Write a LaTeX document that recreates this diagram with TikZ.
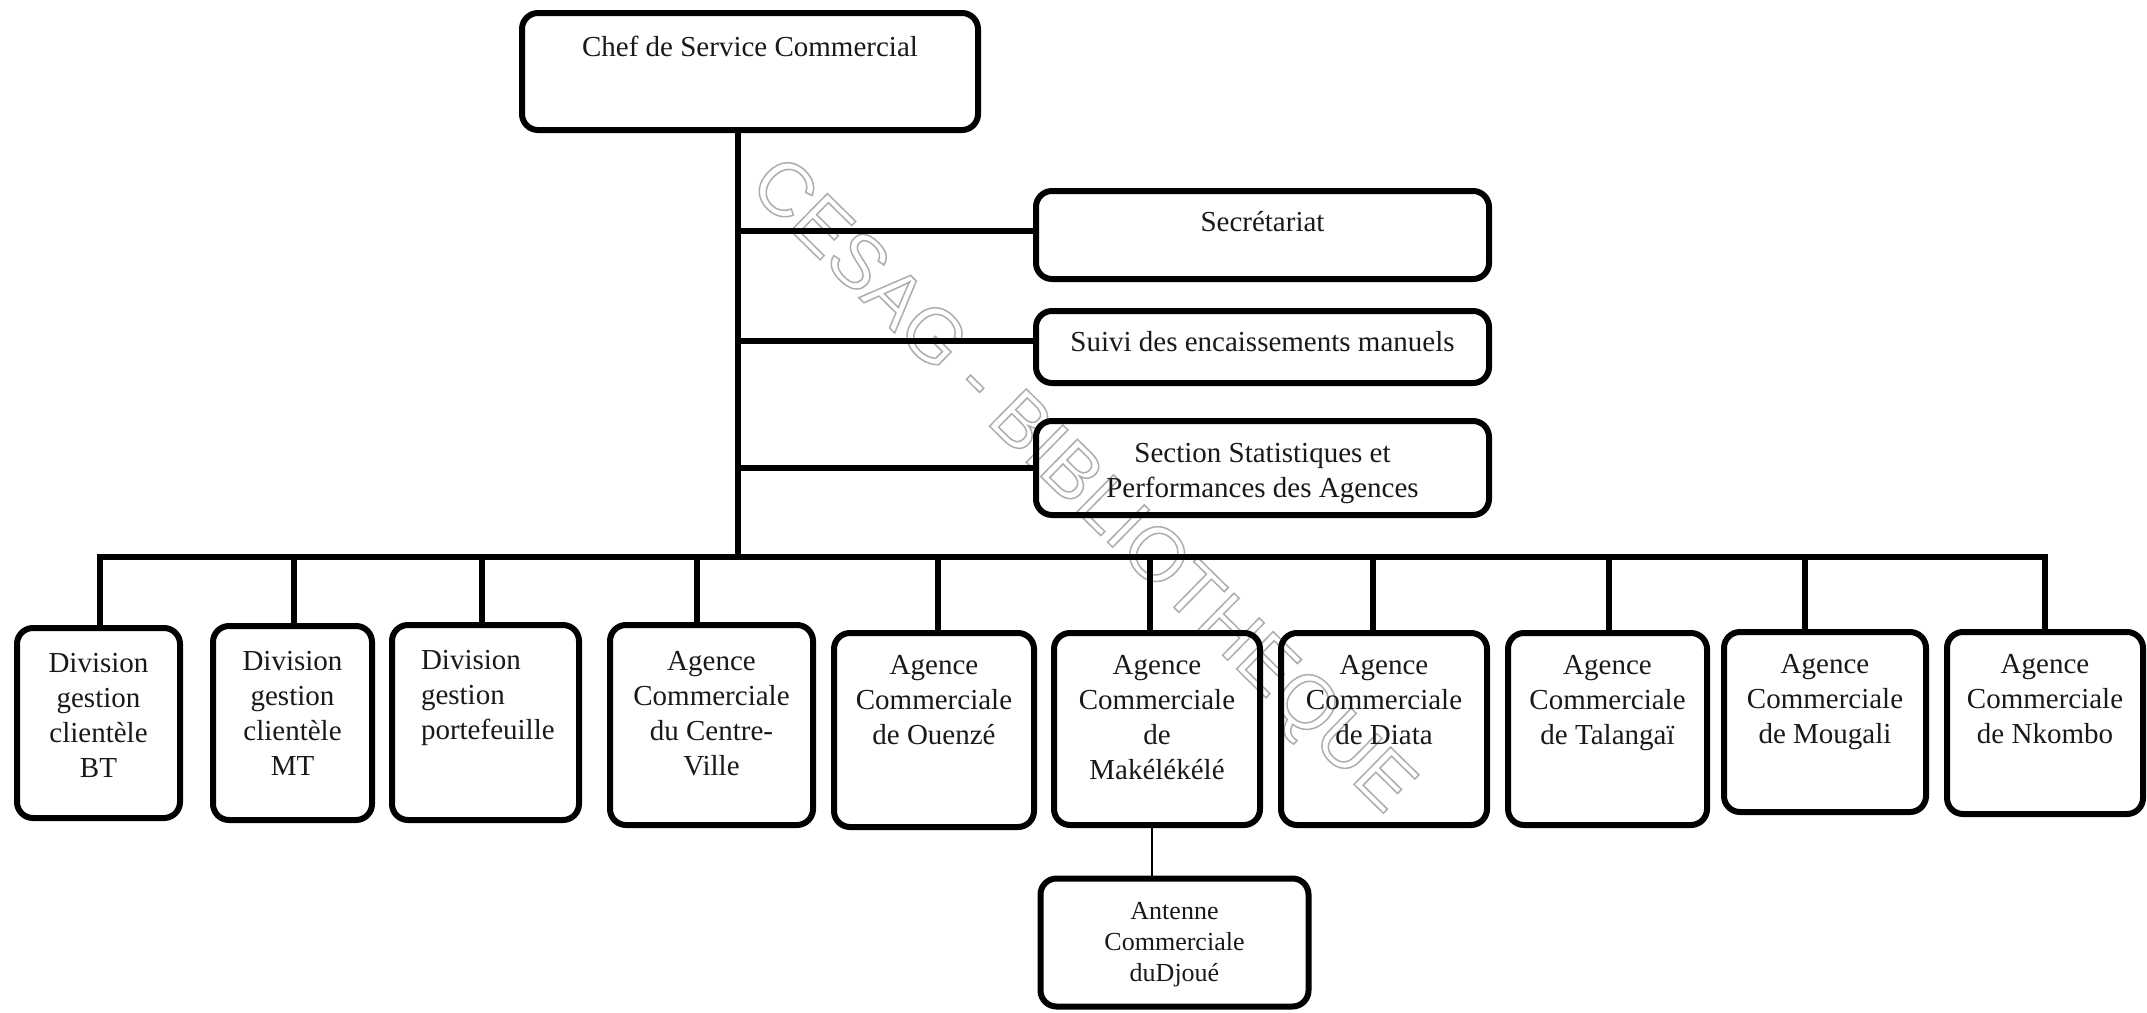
\documentclass[tikz,border=0pt]{standalone}
\usepackage{fontspec}
\setmainfont{Liberation Serif}
\newfontfamily\wmfont{Liberation Sans}
\newcommand{\bx}[4]{\parbox[c][#2pt][t]{#1pt}{\centering\vspace*{#3pt}\strut#4\par}}
\newcommand{\bxl}[5]{\parbox[c][#2pt][t]{#1pt}{\raggedright\leftskip=#4pt\vspace*{#3pt}\strut#5\par}}
\newcommand{\outlinetext}[1]{\special{pdf:literal direct 1 Tr 1.5 w}#1\special{pdf:literal direct 0 Tr}}
\tikzset{
  box/.style={draw=black, line width=6pt, rounded corners=16pt, inner sep=0pt,
    font=\fontsize{29}{35}\selectfont, text=black!90},
  smallbox/.style={box, font=\fontsize{26}{31}\selectfont},
  conn/.style={line width=5.5pt, draw=black},
  thinconn/.style={line width=1.8pt, draw=black},
  watermark/.style={font=\wmfont\fontsize{76}{76}\selectfont, text=black!32, inner sep=0pt}
}
\begin{document}
\begin{tikzpicture}[x=1pt,y=-1pt]
\useasboundingbox (0,0) rectangle (2147,1012);
\fill[white] (0,0) rectangle (2147,1012);

% watermark
\node[watermark, rotate=-44.5] (wm) at (1080,488) {\outlinetext{CESAG - BIBLIOTHEQUE}};

% top boxes
\node[box] (chef) at (750,71.5) {\bx{456}{117}{19}{Chef de Service Commercial}};
\node[box] (sec) at (1262.5,235) {\bx{453}{88}{16}{Secrétariat}};
\node[box] (suivi) at (1262.5,347) {\bx{453}{72}{16}{Suivi des encaissements manuels}};
\node[box] (sect) at (1262.5,468) {\bx{453}{94}{17}{Section Statistiques et\\Performances des Agences}};

% bottom boxes
\node[box] (b1) at (98.5,723) {\bx{163}{190}{20}{Division\\gestion\\clientèle\\BT}};
\node[box] (b2) at (292.5,723) {\bx{159}{194}{20}{Division\\gestion\\clientèle\\MT}};
\node[box] (b3) at (485.5,722.5) {\bxl{187}{195}{20}{29}{Division\\gestion\\portefeuille}};
\node[box] (b4) at (711.5,725) {\bx{203}{200}{21}{Agence\\Commerciale\\du Centre-\\Ville}};
\node[box] (b5) at (934,730) {\bx{200}{194}{17}{Agence\\Commerciale\\de Ouenzé}};
\node[box] (b6) at (1157,729) {\bx{206}{192}{17}{Agence\\Commerciale\\de\\Makélékélé}};
\node[box] (b7) at (1384,729) {\bx{206}{192}{17}{Agence\\Commerciale\\de Diata}};
\node[box] (b8) at (1607.5,729) {\bx{199}{192}{17}{Agence\\Commerciale\\de Talangaï}};
\node[box] (b9) at (1825,722) {\bx{202}{180}{17}{Agence\\Commerciale\\de Mougali}};
\node[box] (b10) at (2045,723) {\bx{196}{182}{17}{Agence\\Commerciale\\de Nkombo}};

\node[smallbox] (ant) at (1174.5,942.5) {\bx{268}{128}{19}{Antenne\\Commerciale\\duDjoué}};

% trunk
\coordinate (trunk) at (738,557);
\draw[conn] (chef.south -| trunk) -- (trunk);

% side branches
\coordinate (j1) at (738,231);
\coordinate (j2) at (738,341);
\coordinate (j3) at (738,468);
\draw[conn] (j1) -- (j1 -| sec.west);
\draw[conn] (j2) -- (j2 -| suivi.west);
\draw[conn] (j3) -- (j3 -| sect.west);

% bus and drops
\coordinate (d1) at (100,557);
\coordinate (d2) at (294,557);
\coordinate (d3) at (482,557);
\coordinate (d4) at (697,557);
\coordinate (d5) at (938,557);
\coordinate (d6) at (1150,557);
\coordinate (d7) at (1373,557);
\coordinate (d8) at (1609,557);
\coordinate (d9) at (1805,557);
\coordinate (d10) at (2045,557);
\draw[conn, line cap=rect] (d1) -- (d10);
\foreach \i in {1,...,10}{
  \draw[conn] (d\i) -- (d\i |- b\i.north);
}

% antenne link
\coordinate (ak) at (1152,850);
\draw[thinconn] (ak |- b6.south) -- (ak |- ant.north);
\end{tikzpicture}
\end{document}
